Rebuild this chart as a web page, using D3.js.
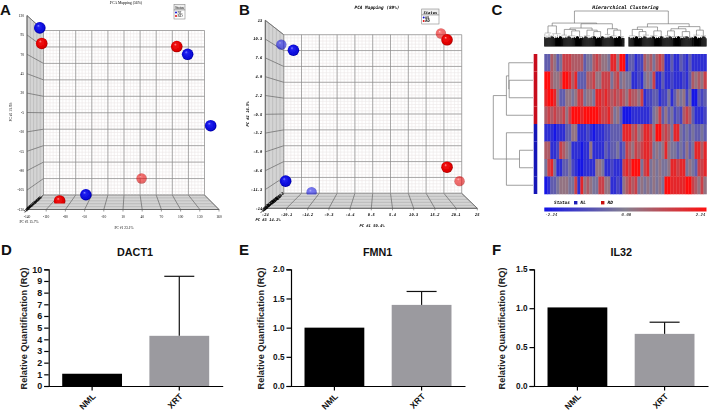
<!DOCTYPE html>
<html><head><meta charset="utf-8">
<script src="https://cdn.jsdelivr.net/npm/d3@7"></script>
<style>html,body{margin:0;padding:0;background:#fff}svg{display:block}</style></head>
<body><svg id="c" width="709" height="411"></svg>
<script>
// ---------- PCA data ----------
const pcaAStatus=["NL","RD","RD","NL","NL","RD","NL","RD"];
const pcaAFaded =[0,0,0,0,0,1,0,0];
const pcaAx=[-120,-117,94,111,147,39,-48,-89];
const pcaAy=[104,84,80,70,-22,-90,-111,-119];
const pcaAxTicks=[-140,-110,-80,-50,-20,10,40,70,100,130,160];
const pcaAyTicks=[120,95,70,45,20,-5,-30,-55,-80,-105,-130];
const pcaAzTicks=[-140,-125,-110,-95,-80,-65,-50,-35,-20,-5,10,25,40,55,70,85];
const pcaBStatus=["NL","NL","RD","RD","RD","RD","NL","NL"];
const pcaBFaded =[1,0,1,0,0,1,0,1];
const pcaBx=[-20.3,-17.5,16.6,18,18,20.9,-19.3,-13.3];
const pcaBy=[9.5,8.7,11.1,10.2,-8.1,-10.1,-10.1,-11.7];
const pcaBxTicks=[-24,-19.1,-14.2,-9.3,-4.4,0.5,5.4,10.3,15.2,20.1,25];
const pcaByTicks=[13,10.3,7.6,4.9,2.2,-0.5,-3.2,-5.9,-8.6,-11.3,-14];
const pcaBzTicks=[-18.1,-16.1,-14.2,-12.2,-10.3,-8.3,-6.4,-4.4,-2.5,-0.5,1.4,3.4,5.3,7.3,9.2,11.2];
// ---------- Heatmap data (levels 0 blue .. 9 red) ----------
const heatRows=[
"336534777666634467655488599"+"133122656467611311321311111",
"996556998683336675577746745"+"441121454711311211121365657",
"899853355457745548878767676"+"576657122331224135452400323",
"676766757999899999877864530"+"001111112457353423267631112",
"111011133551112101112233338"+"886756887599676488434343343",
"661127654111011511113233423"+"765767887454585443435348868",
"478411334210011115541121117"+"879994784545445887884543778",
"013345554471856544775511215"+"676745454545499888889976575"];
const heatStatus=["RD","RD","RD","RD","NL","NL","NL","NL"];
const colorBarTicks=[-2.24,0,2.24];
// dendrograms: [height, ...children]; a plain number = bundle of leaves
const topTree=[100,
 [66,
  [58,[46,7],[44,9]],
  [64,
   [52,[48,[40,6],[44,[38,8],[36,7]]],[46,[38,7],[42,[36,6],[34,7]]]],
   [50,[42,6],[46,[38,6],[36,7]]]]],
 [64,
  [55,[48,[38,7],[42,[36,6],[40,7]]],[44,[38,8],[36,6]]],
  [56,[50,[44,[38,6],[36,7]],[42,[36,8],[34,6]]],[46,[40,7],[38,6]]]]];
const sideTree=[100,
 [67,[61,0,[60,1,2]],3],
 [67,4,[34,5,6],7]];
const leafShape=[.95,.72,.86,.66,.92,.76,.82,.68];
const leafCore=[27,24,28,23,26,29,25,24];
// ---------- Bar panels ----------
const barGroups=["NML","XRT"];
const dactMeans=[1.05,4.3], dactErr=[null,9.4], dactTicks=[0,1,2,3,4,5,6,7,8,9,10];
const fmnMeans=[1.0,1.39], fmnErr=[null,1.62], fmnTicks=[0,0.5,1,1.5,2];
const ilMeans=[1.01,0.67], ilErr=[null,0.82], ilTicks=[0,0.5,1,1.5];

const svg=d3.select("#c");
const defs=svg.append("defs");
function blur(id,sd){
  defs.append("filter").attr("id",id).attr("x","-5%").attr("y","-5%").attr("width","110%").attr("height","110%")
    .append("feGaussianBlur").attr("stdDeviation",sd);
}
blur("soft",0.35); blur("softer",0.5);
function grad(id,stops){
  const g=defs.append("radialGradient").attr("id",id).attr("cx","50%").attr("cy","50%").attr("r","55%").attr("fx","36%").attr("fy","30%");
  stops.forEach(s=>g.append("stop").attr("offset",s[0]).attr("stop-color",s[1]));
}
grad("sNL",[[0,"#8a8aff"],[.22,"#2020f0"],[.75,"#0808d8"],[1,"#00008c"]]);
grad("sRD",[[0,"#ff9a9a"],[.22,"#f01010"],[.75,"#e00000"],[1,"#8c0000"]]);

function pca(o){
  const g=svg.append("g").attr("filter","url(#soft)");
  const n=o.xTicks.length-1;
  const dx=[o.xTicks[0],o.xTicks[n]], dy=[o.yTicks[n],o.yTicks[0]];
  const xF=d3.scaleLinear().domain(dx).range([o.fl,o.fr]);
  const xB=d3.scaleLinear().domain(dx).range([o.bl,o.br]);
  const yF=d3.scaleLinear().domain(dy).range([o.fb,o.ft]);
  const yB=d3.scaleLinear().domain(dy).range([o.bb,o.bt]);
  g.append("rect").attr("x",o.bl).attr("y",o.bt).attr("width",o.br-o.bl).attr("height",o.bb-o.bt).attr("fill","#fff");
  g.append("path").attr("d",`M${o.fl},${o.ft}L${o.bl},${o.bt}L${o.bl},${o.bb}L${o.fl},${o.fb}Z`).attr("fill","#d4d4d4").attr("stroke","#777").attr("stroke-width",.7);
  g.append("path").attr("d",`M${o.bl},${o.bb}L${o.br},${o.bb}L${o.fr},${o.fb}L${o.fl},${o.fb}Z`).attr("fill","#d4d4d4").attr("stroke","#777").attr("stroke-width",.7);
  const sx=(dx[1]-dx[0])/n/5, sy=(dy[1]-dy[0])/n/5;
  d3.range(n*5+1).forEach(i=>{
    const vx=dx[0]+i*sx, vy=dy[0]+i*sy;
    g.append("line").attr("x1",xB(vx)).attr("x2",xB(vx)).attr("y1",o.bt).attr("y2",o.bb).attr("stroke","#ece8e8").attr("stroke-width",.6);
    g.append("line").attr("x1",o.bl).attr("x2",o.br).attr("y1",yB(vy)).attr("y2",yB(vy)).attr("stroke","#ece8e8").attr("stroke-width",.6);
  });
  [.2,.4,.6,.8].forEach(t=>{
    const xl=o.bl+(o.fl-o.bl)*t, xr=o.br+(o.fr-o.br)*t;
    g.append("line").attr("x1",xl).attr("x2",xr).attr("y1",o.bb+(o.fb-o.bb)*t).attr("y2",o.bb+(o.fb-o.bb)*t).attr("stroke","#aaa").attr("stroke-width",.6);
    g.append("line").attr("x1",xl).attr("x2",xl).attr("y1",o.bt+(o.ft-o.bt)*t).attr("y2",o.bb+(o.fb-o.bb)*t).attr("stroke","#b0b0b0").attr("stroke-width",.6);
  });
  o.xTicks.forEach(v=>{
    g.append("line").attr("x1",xB(v)).attr("x2",xB(v)).attr("y1",o.bt).attr("y2",o.bb).attr("stroke","#8a8a8a").attr("stroke-width",.7);
    g.append("line").attr("x1",xB(v)).attr("x2",xF(v)).attr("y1",o.bb).attr("y2",o.fb).attr("stroke","#666").attr("stroke-width",.7);
    g.append("line").attr("x1",xF(v)).attr("x2",xF(v)).attr("y1",o.fb).attr("y2",o.fb+2).attr("stroke","#555").attr("stroke-width",.6);
    g.append("text").attr("x",xF(v)).attr("y",o.fb+o.xLabDy).attr("text-anchor","middle").style("font",o.tickFont).text(v);
  });
  o.yTicks.forEach(v=>{
    g.append("line").attr("x1",o.bl).attr("x2",o.br).attr("y1",yB(v)).attr("y2",yB(v)).attr("stroke","#8a8a8a").attr("stroke-width",.7);
    g.append("line").attr("x1",o.fl).attr("x2",o.bl).attr("y1",yF(v)).attr("y2",yB(v)).attr("stroke","#666").attr("stroke-width",.7);
    g.append("text").attr("x",o.fl-3).attr("y",yF(v)+1.3).attr("text-anchor","end").style("font",o.tickFont).text(v);
  });
  g.append("line").attr("x1",o.fl).attr("x2",o.fr).attr("y1",o.fb).attr("y2",o.fb).attr("stroke","#555").attr("stroke-width",.8);
  g.append("line").attr("x1",o.fl).attr("x2",o.fl).attr("y1",o.ft).attr("y2",o.fb).attr("stroke","#555").attr("stroke-width",.8);
  const m=o.zTicks.length-1;
  o.zTicks.forEach((v,i)=>{
    const t=i/m, px=o.fl+(o.bl-o.fl)*t*.85, py=o.fb-(o.fb-o.bb)*t*.85;
    g.append("text").attr("transform",`translate(${px},${py+1.5}) rotate(-45)`).attr("text-anchor","middle").style("font",o.zFont).attr("fill","#000").text(v);
  });
  const cid=o.id+"clip";
  defs.append("clipPath").attr("id",cid).append("rect").attr("x",0).attr("y",0).attr("width",709).attr("height",o.cutY);
  g.append("g").attr("clip-path",`url(#${cid})`).selectAll("circle").data(o.px.map((_,i)=>i)).join("circle")
    .attr("cx",i=>xF(o.px[i])).attr("cy",i=>yF(o.py[i])).attr("r",i=>o.faded[i]?5.2:5.8)
    .attr("fill",i=>`url(#s${o.status[i]})`).attr("opacity",i=>o.faded[i]?.58:1);
  g.append("text").attr("x",o.titleX).attr("y",o.titleY).attr("text-anchor","middle").style("font",o.titleFont).text(o.title);
  g.append("text").attr("x",o.xLab[0]).attr("y",o.xLab[1]).attr("text-anchor","middle").style("font",o.tickFont).text(o.xName);
  g.append("text").attr("transform",`translate(${o.yLab[0]},${o.yLab[1]}) rotate(-90)`).attr("text-anchor","middle").style("font",o.tickFont).text(o.yName);
  g.append("text").attr("x",o.zLab[0]).attr("y",o.zLab[1]).attr("text-anchor","middle").style("font",o.tickFont).text(o.zName);
  const L=o.leg;
  g.append("rect").attr("x",L[0]).attr("y",L[1]).attr("width",L[2]).attr("height",L[3]).attr("fill","#eee").attr("stroke","#888").attr("stroke-width",.6);
  g.append("rect").attr("x",L[0]).attr("y",L[1]+L[3]).attr("width",L[2]).attr("height",L[4]).attr("fill","#fff").attr("stroke","#888").attr("stroke-width",.6);
  g.append("text").attr("x",L[0]+L[2]/2).attr("y",L[1]+L[3]-1.5).attr("text-anchor","middle").style("font",o.tickFont).text("Status");
  ["NL","RD"].forEach((s,i)=>{
    const yy=L[1]+L[3]+2.5+i*3.6;
    g.append("circle").attr("cx",L[0]+2).attr("cy",yy).attr("r",1).attr("fill",s==="NL"?"#1010d0":"#e01010");
    g.append("text").attr("x",L[0]+3.6).attr("y",yy+1.2).style("font",o.tickFont).text(s);
  });
}
pca({id:"a",fl:27,fr:219,ft:15.5,fb:209.5,bl:43.5,br:204.5,bt:30.5,bb:195,cutY:203.5,
  xTicks:pcaAxTicks,yTicks:pcaAyTicks,zTicks:pcaAzTicks,px:pcaAx,py:pcaAy,status:pcaAStatus,faded:pcaAFaded,
  tickFont:"3.6px 'Liberation Serif'",zFont:"bold 4px 'Liberation Serif'",titleFont:"3.8px 'Liberation Serif'",
  title:"PCA Mapping (56%)",titleX:126,titleY:3.5,xLabDy:8,xName:"PC #1 23.1%",xLab:[124,228.5],yName:"PC #2 13.3%",yLab:[12,112],
  zName:"PC #3 15.7%",zLab:[29,222.5],leg:[174,4.5,11,5.5,9]});
pca({id:"b",fl:265.3,fr:477.3,ft:20.3,fb:208.3,bl:283.7,br:461.7,bt:34.7,bb:193.3,cutY:194.6,
  xTicks:pcaBxTicks,yTicks:pcaByTicks,zTicks:pcaBzTicks,px:pcaBx,py:pcaBy,status:pcaBStatus,faded:pcaBFaded,
  tickFont:"italic bold 3.8px 'DejaVu Sans Mono'",zFont:"bold 4px 'DejaVu Sans Mono'",titleFont:"italic bold 4.4px 'DejaVu Sans Mono'",
  title:"PCA Mapping (89%)",titleX:377,titleY:9,xLabDy:8,xName:"PC #1 50.4%",xLab:[372,226.5],yName:"PC #2 16.5%",yLab:[249,114],
  zName:"PC #3 14.1%",zLab:[268,220.5],leg:[421.7,9,17.3,6,9]});

// ---------- Heatmap ----------
const hm=svg.append("g").attr("filter","url(#soft)");
const heatCells=hm.append("g").attr("filter","url(#softer)");
const heatX=d3.scaleBand().domain(d3.range(54)).range([544.3,706.5]);
const heatY=d3.scaleBand().domain(d3.range(heatRows.length)).range([54,194]);
const heatColor=d3.scaleLinear().domain([0,4.5,9]).range(["#1515e6","#857f90","#ff0f0f"]);
heatRows.forEach((row,r)=>{
  heatCells.append("g").selectAll("rect").data(row.split("").map(Number)).join("rect")
    .attr("x",(d,i)=>heatX(i)).attr("y",heatY(r)).attr("width",heatX.bandwidth()+.3).attr("height",heatY.bandwidth()+.3)
    .attr("fill",d=>heatColor(d));
});
hm.selectAll(".ann").data(heatStatus).join("rect").attr("x",533.7).attr("width",3.6)
  .attr("y",(d,i)=>heatY(i)).attr("height",heatY.bandwidth()).attr("fill",d=>d==="RD"?"#c8101a":"#1414b8");

const topRoot=d3.hierarchy(topTree,d=>Array.isArray(d)?d.slice(1):null);
const leafTotal=d3.sum(topRoot.leaves(),l=>l.data);
const topX=d3.scaleLinear().domain([0,leafTotal+4]).range([544.3,706.5]);
const topH=d3.scaleLinear().domain([0,100]).range([46.5,11]);
let cursor=0;
topRoot.children.forEach((ch,ci)=>{
  if(ci===1) cursor+=4;
  ch.leaves().forEach(l=>{l.x0=cursor; cursor+=l.data; l.x1=cursor; l.px=(l.x0+l.x1)/2; l.ph=l.parent.data[0]-8;});
});
topRoot.eachAfter(n=>{ if(n.children){ n.px=(d3.min(n.children,c=>c.px)+d3.max(n.children,c=>c.px))/2; n.ph=n.data[0]; }});
const den=hm.append("g").attr("fill","none");
const branch=(x1,y1,x2,y2,c,w)=>den.append("line").attr("x1",x1).attr("y1",y1).attr("x2",x2).attr("y2",y2).attr("stroke",c).attr("stroke-width",w);
topRoot.descendants().forEach(n=>{
  if(n.children){
    const ex=d3.extent(n.children,c=>c.px);
    branch(topX(ex[0]),topH(n.ph),topX(ex[1]),topH(n.ph),"#666",.6);
    n.children.forEach(c=>branch(topX(c.px),topH(n.ph),topX(c.px),topH(c.ph),"#666",.6));
  } else {
    branch(topX(n.x0+.5),topH(n.ph),topX(n.x1-.5),topH(n.ph),"#888",.5);
    d3.range(n.x0,n.x1).forEach(u=>{
      const k=(u*3)%8;
      branch(topX(u+.5),topH(0),topX(u+.5),topH(n.ph*leafShape[k]),"#777",.5);
      branch(topX(u+.5),topH(0),topX(u+.5),topH(leafCore[k]),"#000",1.2);
    });
  }
});
branch(topX(leafTotal/2+1),topH(0),topX(leafTotal/2+1),topH(10),"#999",.5);
const sideRoot=d3.hierarchy(sideTree,d=>Array.isArray(d)?d.slice(1):null);
const sideX=d3.scaleLinear().domain([0,100]).range([533,493.3]);
sideRoot.eachAfter(n=>{
  if(n.children){ const e=d3.extent(n.children,c=>c.py); n.py=(e[0]+e[1])/2; n.ph=n.data[0]; }
  else { n.py=heatY(n.data)+heatY.bandwidth()/2; n.ph=0; }
});
sideRoot.descendants().forEach(n=>{
  if(n.children){
    const e=d3.extent(n.children,c=>c.py);
    branch(sideX(n.ph),e[0],sideX(n.ph),e[1],"#777",.7);
    n.children.forEach(c=>branch(sideX(n.ph),c.py,sideX(c.ph),c.py,"#777",.7));
  }
});
const monoB="italic bold 4.4px 'DejaVu Sans Mono'";
hm.append("text").attr("x",625.5).attr("y",9).attr("text-anchor","middle").style("font","italic bold 4.8px 'DejaVu Sans Mono'").text("Hierarchical Clustering");
hm.append("text").attr("x",554).attr("y",204).style("font",monoB).text("Status");
hm.append("rect").attr("x",574).attr("y",201).attr("width",3.4).attr("height",3.4).attr("fill","#1c1cb8");
hm.append("text").attr("x",580.5).attr("y",204).style("font",monoB).text("NL");
hm.append("rect").attr("x",601).attr("y",201).attr("width",3.4).attr("height",3.4).attr("fill","#c81010");
hm.append("text").attr("x",607.5).attr("y",204).style("font",monoB).text("RD");
const cb=defs.append("linearGradient").attr("id","cb");
[[0,"#1515e6"],[.5,"#857f90"],[1,"#ff0f0f"]].forEach(s=>cb.append("stop").attr("offset",s[0]).attr("stop-color",s[1]));
hm.append("rect").attr("x",544.3).attr("y",207.5).attr("width",162.2).attr("height",4).attr("fill","url(#cb)");
const cbX=d3.scaleLinear().domain([-2.24,2.24]).range([544.3,706.5]);
colorBarTicks.forEach((v,i)=>{
  hm.append("text").attr("x",i===0?cbX(v)+7:i===2?cbX(v)-6:cbX(v)+1).attr("y",216).attr("text-anchor","middle").style("font","italic 4px 'DejaVu Sans Mono'").text(v.toFixed(2));
});

// ---------- Bars ----------
function barPanel(o){
  const g=svg.append("g");
  const x=d3.scaleBand().domain(barGroups).range([o.x0,o.x1]).paddingInner(.314).paddingOuter(.155);
  const y=d3.scaleLinear().domain([0,d3.max(o.ticks)]).range([386,269.3]);
  g.selectAll(".bar").data(barGroups).join("rect").attr("x",d=>x(d)).attr("width",x.bandwidth())
    .attr("y",(d,i)=>y(o.means[i])).attr("height",(d,i)=>y(0)-y(o.means[i]))
    .attr("fill",(d,i)=>i===0?"#000":"#9b9a9f");
  o.err.forEach((e,i)=>{
    if(e==null) return;
    const c=x(barGroups[i])+x.bandwidth()/2;
    g.append("line").attr("x1",c).attr("x2",c).attr("y1",y(o.means[i])).attr("y2",y(e)).attr("stroke","#111").attr("stroke-width",1.2);
    g.append("line").attr("x1",c-15).attr("x2",c+15).attr("y1",y(e)).attr("y2",y(e)).attr("stroke","#111").attr("stroke-width",1.2);
  });
  const ay=g.append("g").attr("transform",`translate(${o.x0},0)`)
    .call(d3.axisLeft(y).tickValues(o.ticks).tickFormat(o.fmt).tickSize(4.5).tickPadding(2));
  const ax=g.append("g").attr("transform","translate(0,386)")
    .call(d3.axisBottom(x).tickSize(4.5).tickSizeOuter(0).tickPadding(2));
  [ay,ax].forEach(a=>{a.selectAll("path,line").attr("stroke","#000").attr("stroke-width",1.2);
    a.selectAll("text").style("font","bold "+o.fs+"px 'Liberation Sans'").attr("fill","#111");});
  ax.selectAll("text").attr("text-anchor","end").attr("x",0).attr("y",0).attr("dy",0).style("font","bold 8.6px 'Liberation Sans'")
    .attr("transform","translate(4,11) rotate(-45)");
  g.append("text").attr("x",o.titleX).attr("y",256).attr("text-anchor","middle").style("font","bold 10.8px 'Liberation Sans'").attr("fill","#111").text(o.title);
  g.append("text").attr("transform",`translate(${o.labX},328.5) rotate(-90)`).attr("text-anchor","middle").style("font","bold 9.2px 'Liberation Sans'").attr("fill","#222").text("Relative Quantification (RQ)");
}
barPanel({x0:48.7,x1:222.7,means:dactMeans,err:dactErr,ticks:dactTicks,fmt:d3.format("d"),fs:9,title:"DACT1",titleX:135,labX:26.5});
barPanel({x0:291,x1:465,means:fmnMeans,err:fmnErr,ticks:fmnTicks,fmt:d3.format(".1f"),fs:8.2,title:"FMN1",titleX:377.7,labX:264.3});
barPanel({x0:534,x1:708,means:ilMeans,err:ilErr,ticks:ilTicks,fmt:d3.format(".1f"),fs:8.2,title:"IL32",titleX:621.3,labX:505});

// ---------- Panel letters ----------
[["A",0,14.5],["B",239,14.5],["C",491.5,14.5],["D",1,255],["E",239,255],["F",492,255]].forEach(p=>{
  svg.append("text").attr("x",p[1]).attr("y",p[2]).style("font","bold 15px 'Liberation Sans'").attr("fill","#111").text(p[0]);
});
</script></body></html>
